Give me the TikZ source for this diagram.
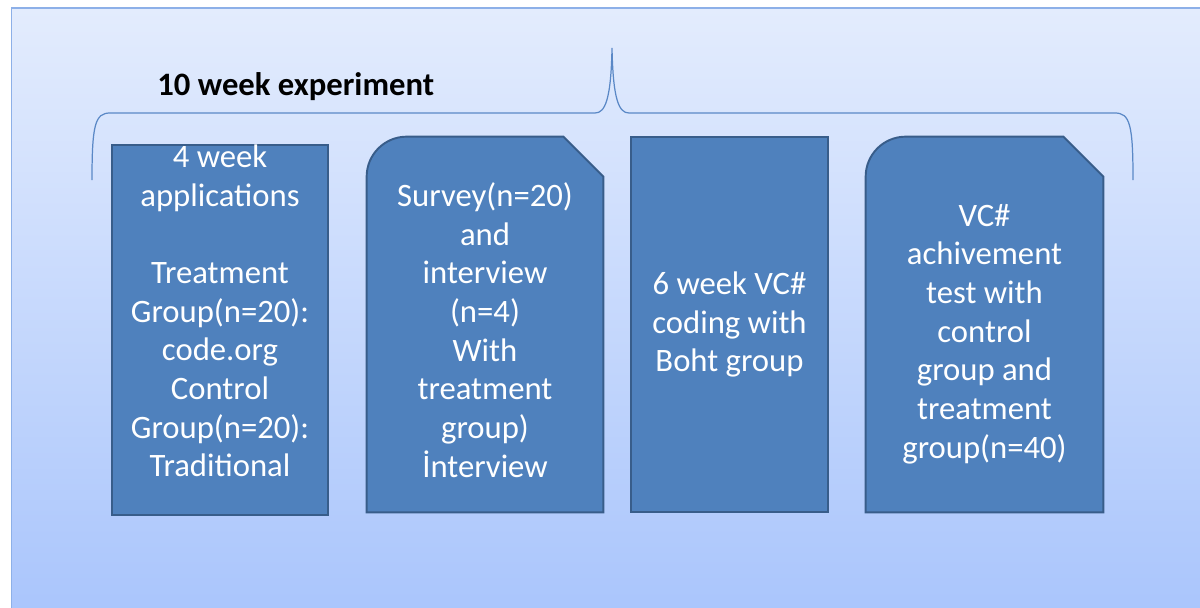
\documentclass[tikz,border=0pt]{standalone}
\usepackage{fontspec}
\setmainfont{Carlito}
\usepackage{xcolor}
\usepackage{tikz}
\usetikzlibrary{
  arrows.meta,
  positioning,
  calc
}
\definecolor{stagefill}{HTML}{4F81BD}
\definecolor{stageline}{HTML}{385D8A}
\definecolor{bracecol}{HTML}{5A88C6}
\definecolor{bgtop}{HTML}{E3ECFD}
\definecolor{bgbot}{HTML}{A8C4FC}
\definecolor{bgline}{HTML}{8DB0E8}

\begin{document}
\begin{tikzpicture}[
  stagetxt/.style={inner sep=0pt, align=center, text=white,
                   font=\fontsize{18.6}{22}\selectfont},
  stage/.style={stagetxt, draw=stageline, fill=stagefill, line width=1.1pt,
                minimum height=7.5cm},
  snipstage/.style={inner sep=0pt, minimum height=7.5cm},
  snipline/.style={draw=stageline, fill=stagefill, line width=1.1pt},
  brace/.style={draw=bracecol, line width=0.7pt},
]
  \useasboundingbox (0,0) rectangle (24,12.14);
  \clip (0,0) rectangle (24,12.14);
  % Background
  \shadedraw[top color=bgtop, bottom color=bgbot, draw=bgline, line width=0.8pt]
    (0.23,11.98) rectangle (24.5,-0.5);

  % Brace and title
  \draw[brace] (1.84,8.54) .. controls (1.84,9.64) and (1.90,9.88) .. (2.20,9.88)
    -- (11.90,9.88) .. controls (12.10,9.88) and (12.22,10.14) .. (12.24,11.18)
    .. controls (12.26,10.14) and (12.38,9.88) .. (12.58,9.88)
    -- (22.30,9.88) .. controls (22.60,9.88) and (22.66,9.64) .. (22.66,8.54);
  \node[font=\fontsize{18.6}{22}\selectfont\bfseries, anchor=west, inner sep=0pt]
    (title) at (3.14,10.40) {10 week experiment};

  % Stages
  \node[stage, minimum width=4.32cm, minimum height=7.28cm] (apps) at (4.40,5.54)
    {4 week\\applications\\~\\Treatment\\Group(n=20):\\code.org\\Control\\Group(n=20):\\Traditional\\~};

  \node[snipstage, minimum width=4.72cm] (survey) at (9.70,5.65) {};
  \draw[snipline] (survey.south west) -- ([yshift=-0.8cm]survey.north west)
    arc[start angle=180, end angle=90, radius=0.8cm]
    -- ([xshift=-0.8cm]survey.north east) -- ([yshift=-0.8cm]survey.north east)
    -- (survey.south east) -- cycle;
  \node[stagetxt, yshift=-0.11cm] (surveytxt) at (survey)
    {Survey(n=20)\\and\\interview\\(n=4)\\With\\treatment\\group)\\İnterview};

  \node[stage, minimum width=3.94cm] (coding) at (14.59,5.65)
    {6 week VC\#\\coding with\\Boht group};

  \node[snipstage, minimum width=4.74cm] (test) at (19.69,5.65) {};
  \draw[snipline] (test.south west) -- ([yshift=-0.8cm]test.north west)
    arc[start angle=180, end angle=90, radius=0.8cm]
    -- ([xshift=-0.8cm]test.north east) -- ([yshift=-0.8cm]test.north east)
    -- (test.south east) -- cycle;
  \node[stagetxt, yshift=-0.19cm] (testtxt) at (test)
    {VC\#\\achivement\\test with\\control\\group and\\treatment\\group(n=40)};
\end{tikzpicture}
\end{document}
